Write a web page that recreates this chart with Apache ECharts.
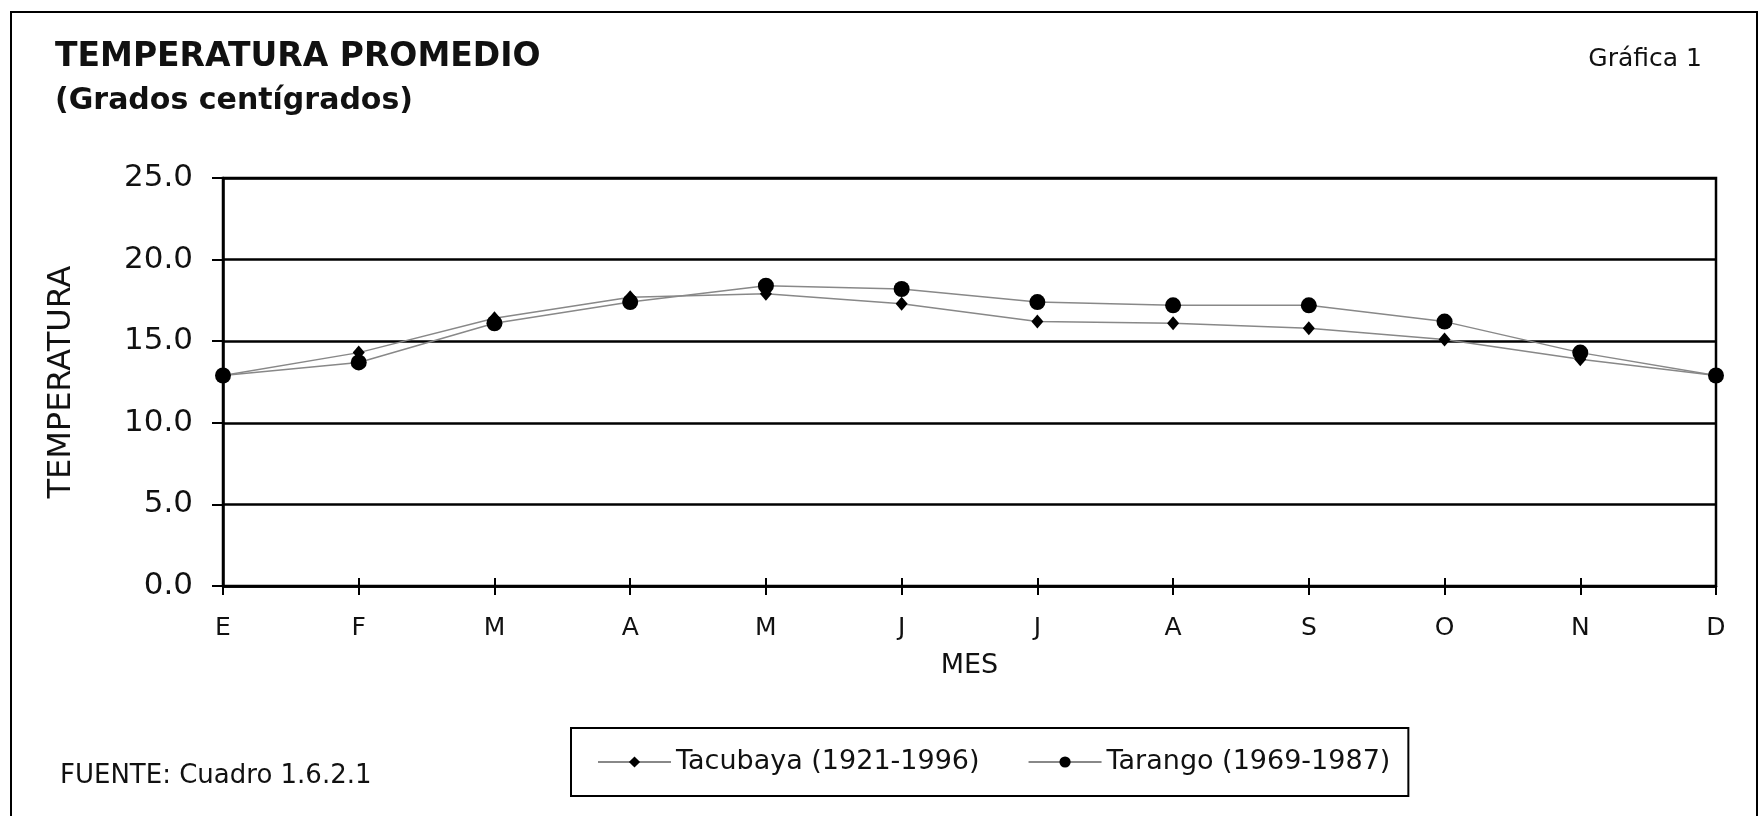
<!DOCTYPE html>
<html>
<head>
<meta charset="utf-8">
<script src="https://cdn.jsdelivr.net/npm/echarts@6/dist/echarts.min.js"></script>
<style>
  html, body { margin: 0; padding: 0; background: #fff; }
  #chart { width: 1763px; height: 816px; }
</style>
</head>
<body>
<div id="chart"></div>
<script>
var meses = ['E', 'F', 'M', 'A', 'M', 'J', 'J', 'A', 'S', 'O', 'N', 'D']
var tacubaya = [12.9, 14.3, 16.4, 17.7, 17.9, 17.3, 16.2, 16.1, 15.8, 15.1, 13.9, 12.9]
var tarango = [12.9, 13.7, 16.1, 17.4, 18.4, 18.2, 17.4, 17.2, 17.2, 16.2, 14.3, 12.9]
var yTicks = [0, 5, 10, 15, 20, 25]

var font = 'DejaVu Sans'
var chart = echarts.init(document.getElementById('chart'), null, { renderer: 'canvas' })

chart.setOption({
  backgroundColor: '#fff',
  animation: false,
  title: [{
    text: 'TEMPERATURA PROMEDIO',
    left: 55,
    top: 39,
    padding: 0,
    textStyle: { fontFamily: font, fontWeight: 'bold', fontSize: 33, lineHeight: 36, color: '#111' }
  }, {
    text: '(Grados centígrados)',
    left: 55,
    top: 83,
    padding: 0,
    textStyle: { fontFamily: font, fontWeight: 'bold', fontSize: 30, lineHeight: 36, color: '#111' }
  }, {
    text: 'Gráfica 1',
    right: 61,
    top: 46,
    padding: 0,
    textStyle: { fontFamily: font, fontWeight: 'normal', fontSize: 25, lineHeight: 26, color: '#111' }
  }, {
    text: 'FUENTE: Cuadro 1.6.2.1',
    left: 60,
    top: 763,
    padding: 0,
    textStyle: { fontFamily: font, fontWeight: 'normal', fontSize: 26, lineHeight: 26, color: '#111' }
  }],
  legend: {
    left: 571,
    top: 728,
    orient: 'horizontal',
    padding: [19, 18, 19, 26],
    borderColor: '#000',
    borderWidth: 2,
    itemWidth: 73,
    itemHeight: 14,
    itemGap: 48,
    textStyle: { fontFamily: font, fontSize: 27, lineHeight: 30, color: '#111' },
    data: ['Tacubaya (1921-1996)', 'Tarango (1969-1987)']
  },
  graphic: [{
    type: 'rect',
    shape: { x: 11, y: 12, width: 1746, height: 830 },
    style: { fill: 'none', stroke: '#000', lineWidth: 2 },
    silent: true
  }],
  grid: {
    left: 223,
    right: 47,
    top: 178,
    bottom: 230,
    show: true,
    borderColor: '#000',
    borderWidth: 2.5,
    backgroundColor: 'transparent'
  },
  xAxis: [{
    type: 'category',
    data: meses,
    boundaryGap: false,
    name: 'MES',
    nameLocation: 'middle',
    nameGap: 66,
    nameTextStyle: { fontFamily: font, fontSize: 27, color: '#111' },
    axisLine: { show: true, lineStyle: { color: '#000', width: 2.5 } },
    axisTick: { show: true, inside: false, length: 9, alignWithLabel: true, lineStyle: { color: '#000', width: 2 } },
    axisLabel: { show: true, margin: 30, interval: 0, fontFamily: font, fontSize: 25, color: '#111' },
    splitLine: { show: false }
  }, {
    type: 'category',
    data: meses,
    boundaryGap: false,
    position: 'bottom',
    axisLine: { show: false },
    axisTick: { show: true, inside: true, length: 8, lineStyle: { color: '#000', width: 2 } },
    axisLabel: { show: false },
    splitLine: { show: false }
  }],
  yAxis: {
    type: 'value',
    min: yTicks[0],
    max: yTicks[yTicks.length - 1],
    interval: 5,
    name: 'TEMPERATURA',
    nameLocation: 'middle',
    nameRotate: 90,
    nameGap: 145,
    nameTextStyle: { fontFamily: font, fontSize: 32, color: '#111' },
    axisLine: { show: true, lineStyle: { color: '#000', width: 2.5 } },
    axisTick: { show: true, inside: false, length: 11, lineStyle: { color: '#000', width: 2 } },
    axisLabel: {
      margin: 30,
      fontFamily: font,
      fontSize: 31,
      color: '#111',
      formatter: function (v) { return v.toFixed(1) }
    },
    splitLine: { show: true, lineStyle: { color: '#000', width: 2.5 } }
  },
  series: [{
    name: 'Tacubaya (1921-1996)',
    type: 'line',
    data: tacubaya,
    symbol: 'diamond',
    symbolSize: [12, 14],
    itemStyle: { color: '#000' },
    lineStyle: { color: '#888', width: 1.5 },
    z: 3
  }, {
    name: 'Tarango (1969-1987)',
    type: 'line',
    data: tarango,
    symbol: 'circle',
    symbolSize: 16,
    itemStyle: { color: '#000' },
    lineStyle: { color: '#888', width: 1.5 },
    z: 4
  }]
})
</script>
</body>
</html>
